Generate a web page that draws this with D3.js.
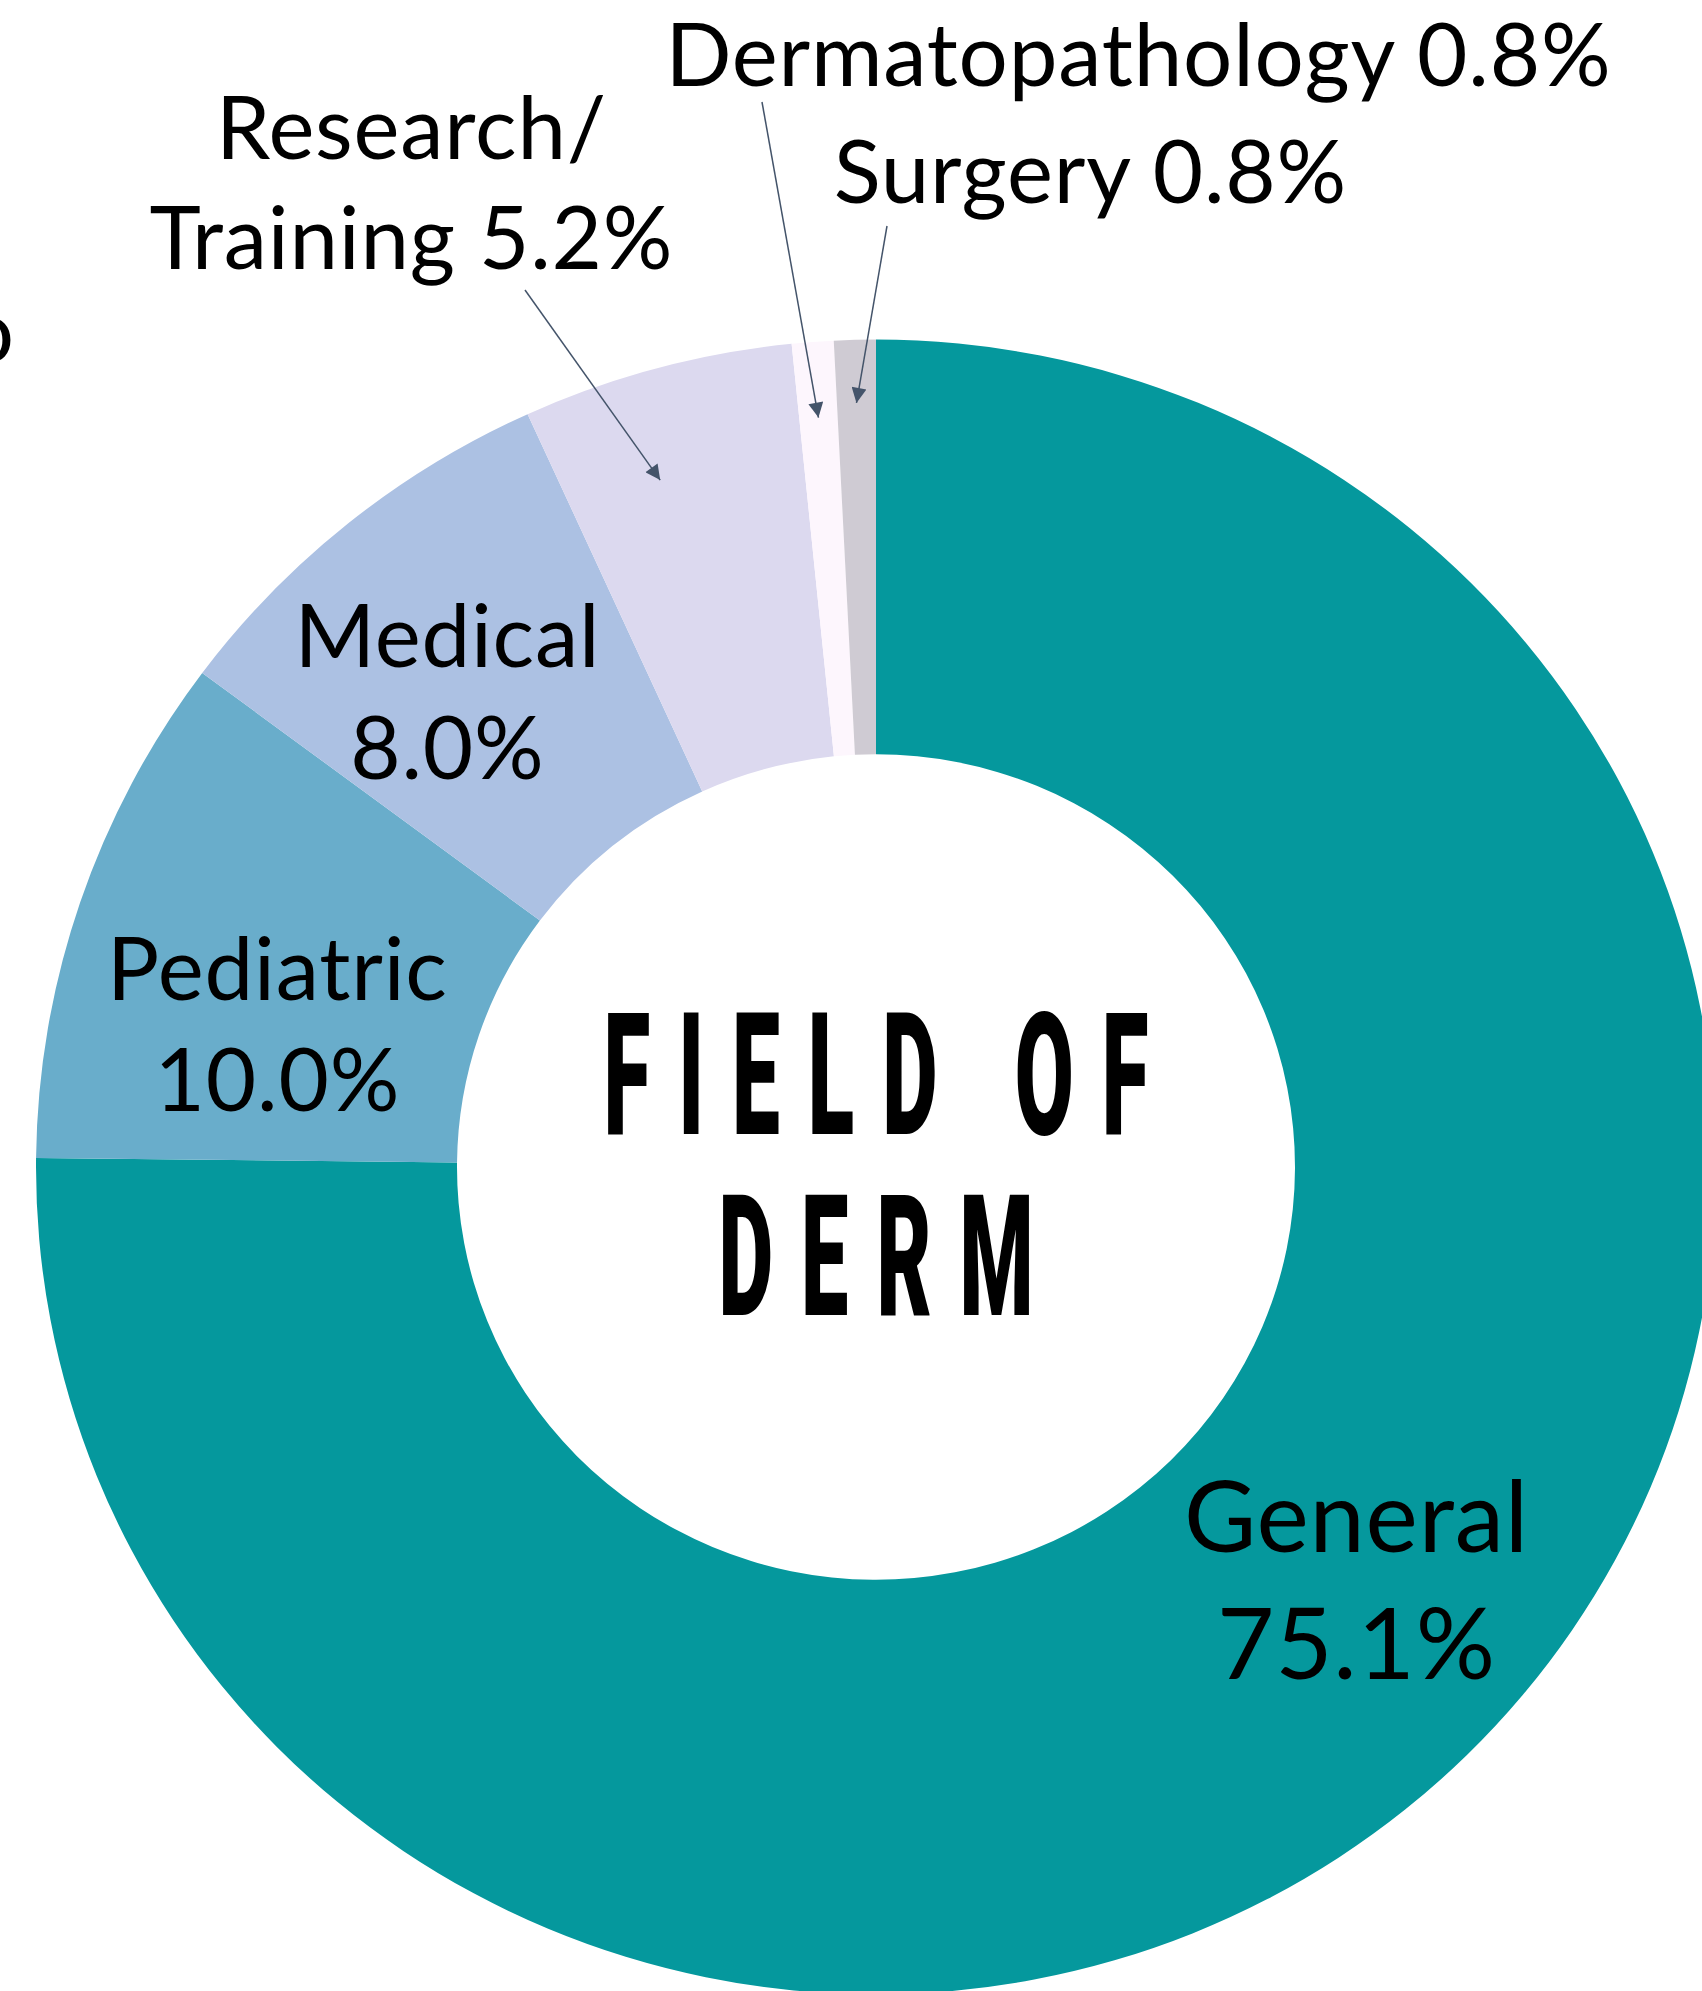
<!DOCTYPE html>
<html>
<head>
<meta charset="utf-8">
<script src="https://cdn.jsdelivr.net/npm/d3@7"></script>
<style>
  html, body { margin: 0; padding: 0; background: #ffffff; }
  svg { display: block; }
</style>
</head>
<body>
<script>
// ---- data ----
const categories = ["General", "Pediatric", "Medical", "Research/Training", "Dermatopathology", "Surgery"];
const values = [75.1, 10.0, 8.0, 5.2, 0.8, 0.8];
// label line templates ({v} is replaced by the formatted value)
const labelTemplates = [
  ["General", "{v}"],
  ["Pediatric", "{v}"],
  ["Medical", "{v}"],
  ["Research/", "Training {v}"],
  ["Dermatopathology {v}"],
  ["Surgery {v}"]
];
const sliceColors = ["#05989d", "#69adcb", "#acc1e3", "#dcd9ef", "#fdf6fd", "#cfcbd3"];
const centerTitle = ["FIELD OF", "DERM"];
const edgeFragment = "o";

// ---- layout ----
const W = 1702, H = 1991;
const cx = 876, cy = 1167, R = 840, r = 419, sy = 0.985;
const labelFont = "Lato, 'Open Sans', sans-serif";
const labelLS = 0.8;
const labelLayout = [
  { x: 1356, y: 1552, size: 99, lh: 127 },
  { x: 277, y: 1000, size: 87, lh: 111 },
  { x: 447, y: 667, size: 87, lh: 112 },
  { x: 411, y: 159, size: 87, lh: 110 },
  { x: 1138, y: 86, size: 87, lh: 0 },
  { x: 1090, y: 203, size: 87, lh: 0 }
];
// arrows: tail point, and where along the slice (0..1) / radius the tip lands
const arrowLayout = [
  null, null, null,
  { tail: [525, 290], t: 0.39, rad: 730 },
  { tail: [762, 102], t: 0.5, rad: 763 },
  { tail: [887, 226], t: 0.5, rad: 776 }
];
const arrowColor = "#44546a";

const svg = d3.select("body").append("svg")
  .attr("width", W).attr("height", H)
  .attr("viewBox", `0 0 ${W} ${H}`);

svg.append("rect").attr("width", W).attr("height", H).attr("fill", "#fff");

const defs = svg.append("defs");
defs.append("marker")
  .attr("id", "arrowhead")
  .attr("viewBox", "0 0 10 10")
  .attr("refX", 10).attr("refY", 5)
  .attr("markerWidth", 18).attr("markerHeight", 15)
  .attr("markerUnits", "userSpaceOnUse")
  .attr("orient", "auto")
  .append("path")
  .attr("d", "M0,0 L10,5 L0,10 Z")
  .attr("fill", arrowColor);

const pie = d3.pie().sort(null).value(d => d);
const arcs = pie(values);
const arcGen = d3.arc().innerRadius(r).outerRadius(R);

const donut = svg.append("g")
  .attr("transform", `translate(${cx},${cy}) scale(1,${sy})`);

donut.selectAll("path.slice")
  .data(arcs)
  .join("path")
  .attr("class", "slice")
  .attr("d", arcGen)
  .attr("fill", (d, i) => sliceColors[i]);

// ---- labels ----
const fmt = v => `${v.toFixed(1)}%`;
const labels = svg.append("g").attr("class", "labels")
  .attr("font-family", labelFont).attr("fill", "#000");

labelTemplates.forEach((lines, i) => {
  const L = labelLayout[i];
  lines.forEach((ln, j) => {
    const t = labels.append("text")
      .attr("font-size", L.size)
      .attr("letter-spacing", labelLS)
      .attr("y", L.y + j * L.lh)
      .text(ln.replace("{v}", fmt(values[i])));
    const len = t.node().getComputedTextLength();
    t.attr("x", L.x - (len - labelLS) / 2);
  });
});

// ---- arrows ----
const arrows = svg.append("g").attr("class", "arrows");
arcs.forEach((a, i) => {
  const A = arrowLayout[i];
  if (!A) return;
  const ang = a.startAngle + (a.endAngle - a.startAngle) * A.t;
  const tipX = cx + A.rad * Math.sin(ang);
  const tipY = cy - A.rad * Math.cos(ang) * sy;
  arrows.append("line")
    .attr("x1", A.tail[0]).attr("y1", A.tail[1])
    .attr("x2", tipX).attr("y2", tipY)
    .attr("stroke", arrowColor)
    .attr("stroke-width", 1.5)
    .attr("marker-end", "url(#arrowhead)");
});

// ---- edge fragment of a label cut off by the picture's left edge ----
svg.append("text")
  .attr("x", 14).attr("y", 362)
  .attr("text-anchor", "end")
  .attr("font-family", labelFont)
  .attr("font-size", 87)
  .text(edgeFragment);

// ---- centre title ----
const titleSx = 0.5;
const titleLS = 56;
const titleLayout = [{ y: 1134, size: 171 }, { y: 1315, size: 169 }];
centerTitle.forEach((line, i) => {
  const g = svg.append("g")
    .attr("transform", `translate(${cx},${titleLayout[i].y}) scale(${titleSx},1)`);
  const t = g.append("text")
    .attr("font-family", "Roboto, 'Noto Sans', sans-serif")
    .attr("font-weight", 900)
    .attr("font-size", titleLayout[i].size)
    .attr("letter-spacing", titleLS)
    .attr("text-anchor", "start")
    .text(line);
  const len = t.node().getComputedTextLength();
  t.attr("x", -(len - titleLS) / 2);
});
</script>
</body>
</html>
